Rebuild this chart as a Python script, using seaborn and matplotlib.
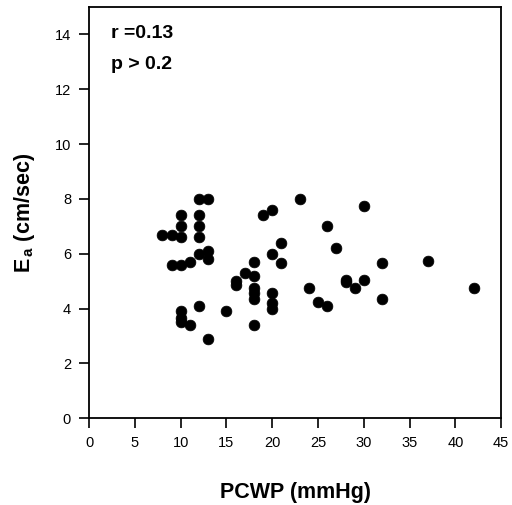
import matplotlib
matplotlib.use('Agg')
import matplotlib.pyplot as plt
import numpy as np
import pandas as pd
import seaborn as sns

# PCWP (mmHg) vs Ea (cm/sec)
pcwp = [8, 9, 10, 10, 10, 12, 12, 12, 12, 13, 9, 10, 11, 12, 13, 13,
        10, 10, 10, 11, 12, 13, 15, 16, 16, 17, 18, 18, 18, 18, 18, 18,
        19, 20, 20, 20, 20, 20, 21, 21, 23, 24, 25, 26, 26, 27, 28, 28,
        29, 30, 30, 32, 32, 37, 42]
ea = [6.7, 6.7, 7.4, 7.0, 6.6, 8.0, 7.4, 7.0, 6.6, 8.0, 5.6, 5.6, 5.7, 6.0, 6.1, 5.8,
      3.9, 3.65, 3.5, 3.4, 4.1, 2.9, 3.9, 5.0, 4.85, 5.3, 5.7, 5.2, 4.75, 4.55, 4.35, 3.4,
      7.4, 7.6, 6.0, 4.55, 4.2, 4.0, 6.4, 5.65, 8.0, 4.75, 4.25, 7.0, 4.1, 6.2, 5.05, 4.95,
      4.75, 7.75, 5.05, 5.65, 4.35, 5.75, 4.75]

x_ticks = [0, 5, 10, 15, 20, 25, 30, 35, 40, 45]
y_ticks = [0, 2, 4, 6, 8, 10, 12, 14]

df = pd.DataFrame({'pcwp': pcwp, 'ea': ea})

sns.set_style("ticks", {'text.color': 'black', 'axes.labelcolor': 'black',
                        'xtick.color': 'black', 'ytick.color': 'black'})
plt.rcParams['font.family'] = ['Liberation Sans', 'DejaVu Sans']
plt.rcParams['mathtext.fontset'] = 'custom'
plt.rcParams['mathtext.bf'] = 'Liberation Sans:bold'
plt.rcParams['mathtext.rm'] = 'Liberation Sans:bold'

fig = plt.figure(figsize=(5.12, 5.05), dpi=100)
ax = fig.add_axes([0.174, 0.172, 0.805, 0.814])

sns.scatterplot(data=df, x='pcwp', y='ea', ax=ax, color='black', s=60,
                edgecolor='black', linewidth=0.5, legend=False)

ax.set_xlim(0, 45)
ax.set_ylim(0, 15)
ax.set_xticks(x_ticks)
ax.set_yticks(y_ticks)
ax.tick_params(axis='both', direction='out', length=7, width=1.2,
               labelsize=10.5, colors='black', pad=6)
for side in ['top', 'right', 'left', 'bottom']:
    ax.spines[side].set_visible(True)
    ax.spines[side].set_color('black')
    ax.spines[side].set_linewidth(1.3)

ax.set_xlabel('PCWP (mmHg)', fontsize=15.5, fontweight='bold', labelpad=23,
              color='black')
ax.set_ylabel(r'E$_{\,\rm a}$ (cm/sec)', fontsize=15.5, fontweight='bold',
              labelpad=13, color='black')

ax.text(2.4, 14.05, 'r =0.13', fontsize=14, fontweight='bold', va='center',
        color='black')
ax.text(2.4, 12.9, 'p > 0.2', fontsize=14, fontweight='bold', va='center',
        color='black')

fig.savefig('out.png', dpi=100)
